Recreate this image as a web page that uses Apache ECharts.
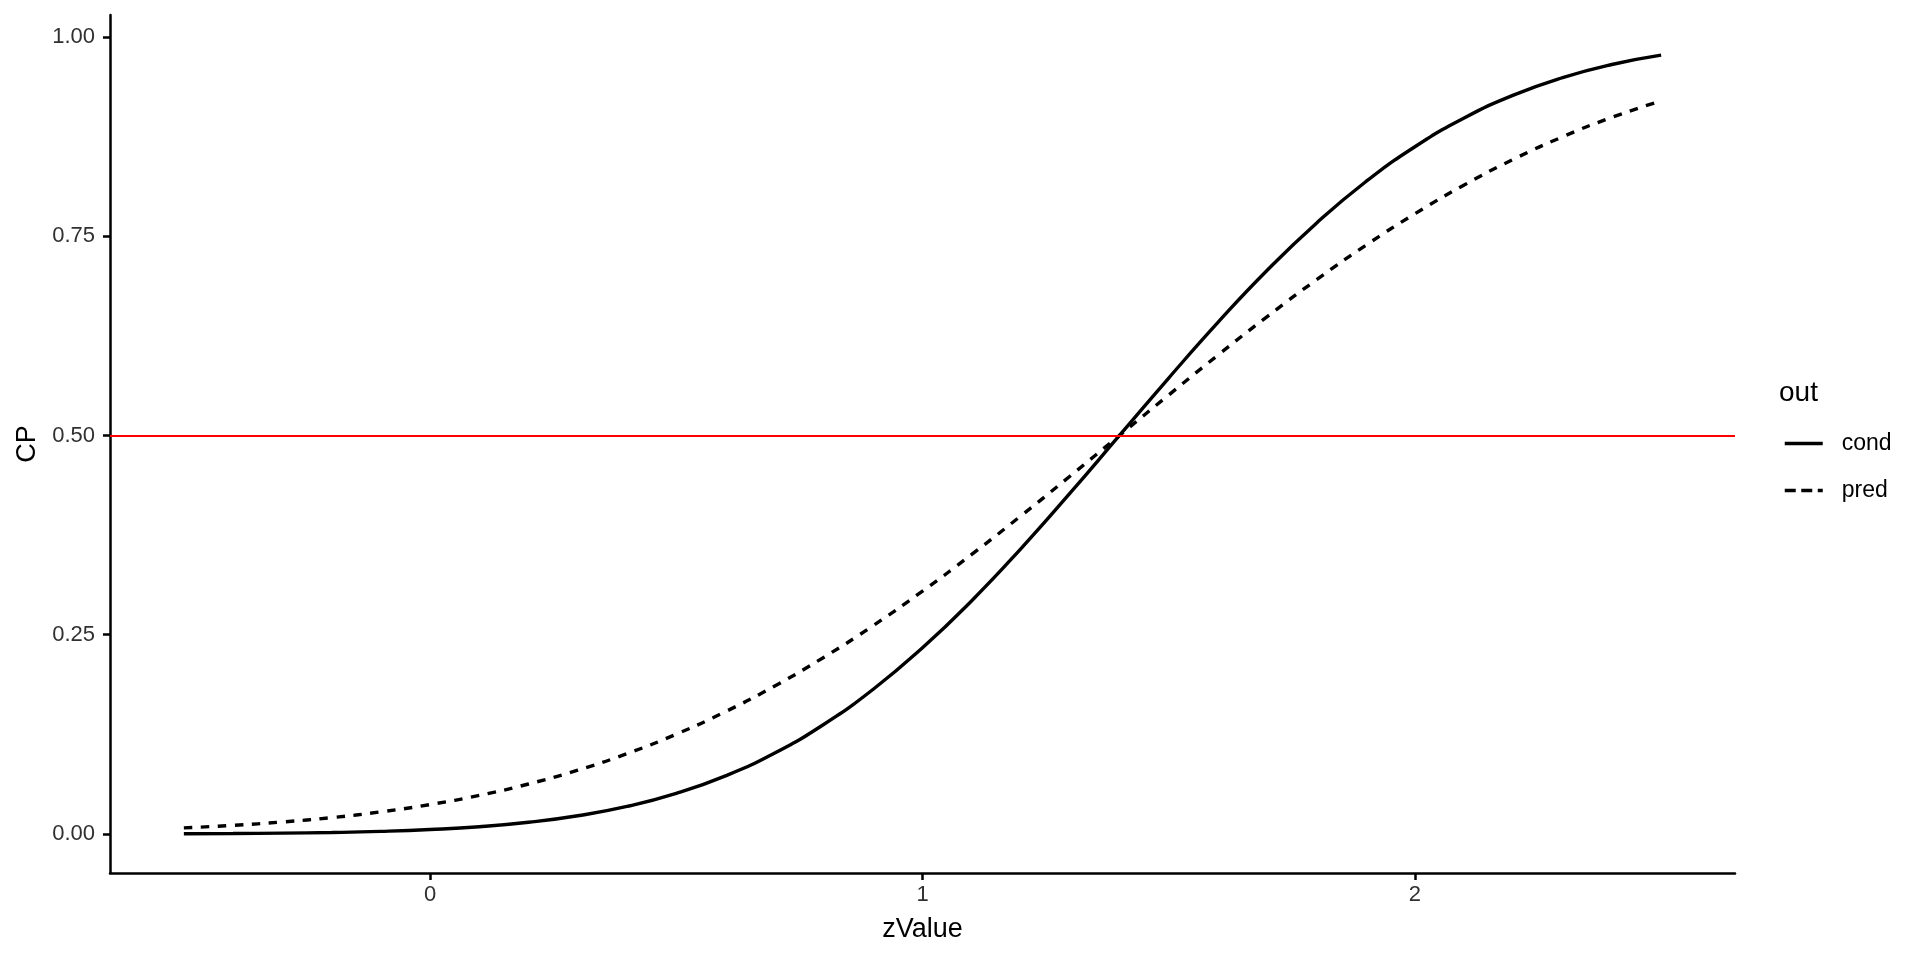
<!DOCTYPE html>
<html>
<head>
<meta charset="utf-8">
<script src="https://cdn.jsdelivr.net/npm/echarts@6/dist/echarts.min.js"></script>
<style>html,body{margin:0;padding:0;background:#fff}#c{width:1920px;height:960px}</style>
</head>
<body>
<div id="c"></div>
<script>
const zValues = [-0.5,-0.4,-0.3,-0.2,-0.1,0.0,0.1,0.2,0.3,0.4,0.5,0.6,0.7,0.8,0.9,1.0,1.1,1.2,1.3,1.4,1.5,1.6,1.7,1.8,1.9,2.0,2.1,2.2,2.3,2.4,2.5];
const condValues = [0.0003,0.0005,0.001,0.0018,0.0032,0.0055,0.009,0.0146,0.0228,0.0345,0.0509,0.0729,0.1016,0.1377,0.1816,0.2336,0.2927,0.3581,0.4279,0.5,0.5721,0.6419,0.7073,0.7664,0.8184,0.8623,0.8984,0.9271,0.9491,0.9655,0.9772];
const predValues = [0.0076,0.0108,0.015,0.0205,0.0277,0.0369,0.0484,0.0627,0.08,0.1008,0.1252,0.1535,0.1857,0.2218,0.2615,0.3047,0.3508,0.3992,0.4492,0.5,0.5508,0.6008,0.6492,0.6953,0.7385,0.7782,0.8143,0.8465,0.8748,0.8992,0.9198];
const xTicks = [0, 1, 2];
const yTicks = [0, 0.25, 0.5, 0.75, 1.0];
const refLine = 0.5;
const seriesNames = ['cond', 'pred'];

const chart = echarts.init(document.getElementById('c'), null, {renderer: 'canvas'});
const font = 'Liberation Sans, Arial, sans-serif';
const tickColor = '#303030';
chart.setOption({
  animation: false,
  backgroundColor: '#fff',
  grid: {left: 110, right: 185, top: 15, bottom: 87, containLabel: false},
  xAxis: {
    type: 'value', min: -0.65, max: 2.65,
    name: 'zValue', nameLocation: 'middle', nameGap: 43,
    nameTextStyle: {fontFamily: font, fontSize: 27, color: '#000'},
    axisLine: {show: true, onZero: false, lineStyle: {color: '#000', width: 2.5}},
    axisTick: {show: true, length: 7, lineStyle: {color: '#000', width: 2.5}, customValues: xTicks},
    axisLabel: {fontFamily: font, fontSize: 22, color: tickColor, margin: 11, customValues: xTicks, formatter: v => String(v)},
    splitLine: {show: false}
  },
  yAxis: {
    type: 'value', min: -0.049, max: 1.0276,
    name: 'CP', nameLocation: 'middle', nameGap: 69, nameRotate: 90,
    nameTextStyle: {fontFamily: font, fontSize: 27, color: '#000'},
    axisLine: {show: true, onZero: false, lineStyle: {color: '#000', width: 2.5}},
    axisTick: {show: true, length: 7, lineStyle: {color: '#000', width: 2.5}, customValues: yTicks},
    axisLabel: {fontFamily: font, fontSize: 22, color: tickColor, margin: 15, customValues: yTicks, formatter: v => v.toFixed(2)},
    splitLine: {show: false}
  },
  legend: {
    show: true,
    orient: 'vertical',
    left: 1783, top: 431, padding: 0,
    itemWidth: 38, itemHeight: 14, itemGap: 22,
    itemStyle: {opacity: 0},
    lineStyle: {width: 3.5, color: '#000'},
    textStyle: {fontFamily: font, fontSize: 23, lineHeight: 25, color: '#000', padding: [0,0,0,14]},
    data: [
      {name: seriesNames[0], lineStyle: {type: 'solid', width: 3.5}},
      {name: seriesNames[1], lineStyle: {type: [11, 5.5], width: 3.5}}
    ]
  },
  graphic: [{type: 'text', left: 1779, top: 379, style: {text: 'out', fontFamily: font, fontSize: 28, fill: '#000'}}],
  series: [
    {
      name: seriesNames[0], type: 'line', symbol: 'none', smooth: true,
      data: zValues.map((z, i) => [z, condValues[i]]),
      lineStyle: {color: '#000', width: 3.4, type: 'solid'}, itemStyle: {color: '#000'},
      markLine: {silent: true, symbol: 'none', label: {show: false},
        lineStyle: {color: '#ff0000', width: 2, type: 'solid'},
        data: [{yAxis: refLine}]},
      z: 3
    },
    {
      name: seriesNames[1], type: 'line', symbol: 'none', smooth: true,
      data: zValues.map((z, i) => [z, predValues[i]]),
      lineStyle: {color: '#000', width: 3.4, type: [8.5, 8.5]}, itemStyle: {color: '#000'},
      z: 3
    }
  ]
});
</script>
</body>
</html>
